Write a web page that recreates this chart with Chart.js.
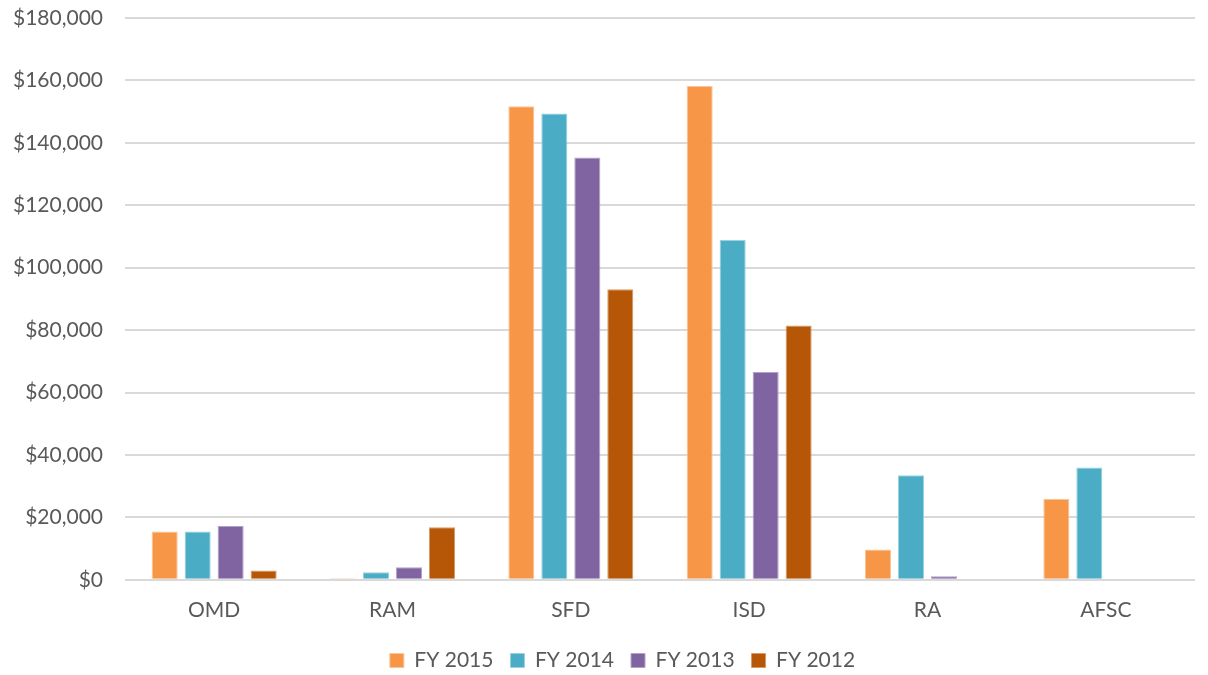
<!DOCTYPE html>
<html>
<head>
<meta charset="utf-8">
<script src="https://cdn.jsdelivr.net/npm/chart.js@4.4.1/dist/chart.umd.min.js"></script>
<style>
  html, body { margin: 0; padding: 0; background: #fff; overflow: hidden; }
  #wrap { width: 1208px; height: 675px; overflow: hidden; }
</style>
</head>
<body>
<div id="wrap"><canvas id="barChart" width="1208" height="681"></canvas></div>
<script>
// values
const divisions = ["OMD", "RAM", "SFD", "ISD", "RA", "AFSC"];
const fy2015 = [15500, 500, 151700, 158200, 9700, 26000];
const fy2014 = [15500, 2400, 149400, 108900, 33500, 36000];
const fy2013 = [17200, 4000, 135300, 66600, 1100, 0];
const fy2012 = [3000, 16800, 93100, 81500, 0, 0];
const seriesNames = ["FY 2015", "FY 2014", "FY 2013", "FY 2012"];

const fills = ["#F79646", "#4BACC6", "#8064A2", "#B65708"];
const edges = ["#FAC59A", "#9BD2E0", "#B3A2C8", "#D89A66"];
const fontFam = "Lato, 'Open Sans', 'Liberation Sans', sans-serif";

// the legend in the original sits a bit right of the canvas centre
const legendNudge = {
  id: 'legendNudge',
  beforeDraw(chart) {
    if (chart.legend) chart.legend.left = 50;
  }
};

const ctx = document.getElementById("barChart").getContext("2d");
const chart = new Chart(ctx, {
  type: 'bar',
  data: {
    labels: divisions,
    datasets: [fy2015, fy2014, fy2013, fy2012].map((vals, i) => ({
      label: seriesNames[i],
      data: vals,
      backgroundColor: fills[i],
      borderColor: edges[i],
      borderWidth: 1,
      categoryPercentage: 0.74,
      barPercentage: 0.79
    }))
  },
  options: {
    responsive: false,
    animation: false,
    layout: { padding: { top: 18, right: 13, bottom: 0, left: 0 } },
    scales: {
      y: {
        min: 0,
        max: 180000,
        border: { display: false },
        // tick marks are hidden, they only push the labels left
        grid: { color: '#d9d9d9', lineWidth: 2, drawTicks: true, tickLength: 20, tickColor: 'rgba(0,0,0,0)' },
        ticks: {
          stepSize: 20000,
          padding: 2,
          color: '#595959',
          font: { family: fontFam, size: 21 },
          callback: v => '$' + v.toLocaleString('en-US')
        },
        afterFit: s => { s.width = 125; }
      },
      x: {
        border: { display: false },
        grid: { display: false },
        ticks: {
          padding: 10,
          color: '#595959',
          font: { family: fontFam, size: 21 }
        }
      }
    },
    plugins: {
      tooltip: { enabled: false },
      legend: {
        position: 'bottom',
        labels: {
          boxWidth: 14,
          boxHeight: 14,
          padding: 17,
          color: '#595959',
          font: { family: fontFam, size: 21 }
        }
      }
    }
  },
  plugins: [legendNudge]
});
</script>
</body>
</html>
